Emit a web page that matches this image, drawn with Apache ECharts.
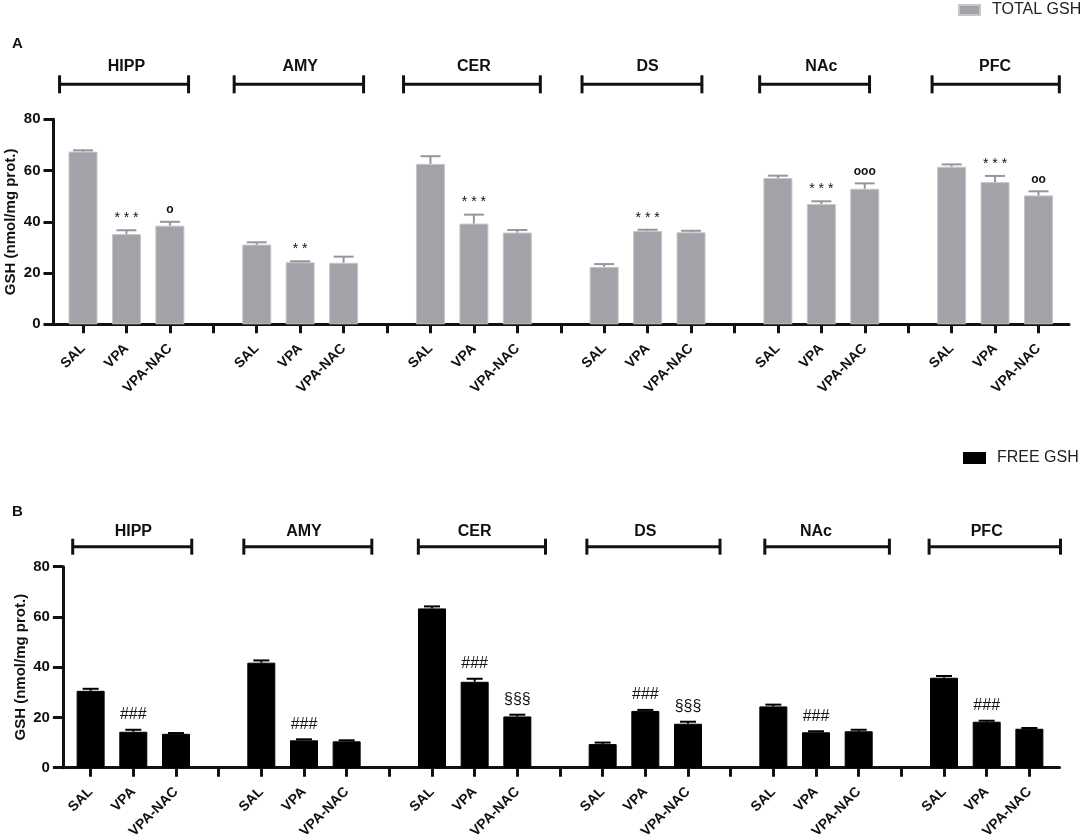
<!DOCTYPE html>
<html>
<head>
<meta charset="utf-8">
<script src="https://cdn.jsdelivr.net/npm/echarts@6/dist/echarts.min.js"></script>
<style>
html, body { margin: 0; padding: 0; background: #fff; }
#main { width: 1084px; height: 840px; }
</style>
</head>
<body>
<div id="main"></div>
<script>
// brain regions and treatment groups
var regions = ['HIPP', 'AMY', 'CER', 'DS', 'NAc', 'PFC'];
var groups = ['SAL', 'VPA', 'VPA-NAC'];
var yTicks = [0, 20, 40, 60, 80];

// panel A - total GSH (mean, sem), 3 values per region
var totalMean = [67.4, 35.2, 38.5, 31.1, 24.2, 24.0, 62.6, 39.3, 35.8, 22.4, 36.4, 35.9, 57.1, 46.9, 52.9, 61.5, 55.5, 50.3];
var totalSem = [0.5, 1.5, 1.5, 0.9, 0.4, 2.4, 3.0, 3.5, 1.0, 1.1, 0.5, 0.6, 0.9, 1.1, 2.1, 0.9, 2.4, 1.6];
var totalMarks = ['', '* * *', 'o', '', '* *', '', '', '* * *', '', '', '* * *', '', '', '* * *', 'ooo', '', '* * *', 'oo'];

// panel B - free GSH
var freeMean = [30.6, 14.3, 13.5, 41.8, 10.9, 10.5, 63.4, 34.2, 20.4, 9.4, 22.6, 17.5, 24.4, 14.1, 14.5, 35.8, 18.3, 15.5];
var freeSem = [0.8, 0.8, 0.3, 0.9, 0.4, 0.4, 0.8, 1.2, 0.7, 0.6, 0.4, 0.8, 0.7, 0.4, 0.6, 0.7, 0.4, 0.3];
var freeMarks = ['', '###', '', '', '###', '', '', '###', '§§§', '', '###', '§§§', '', '###', '', '', '###', ''];

// how far each region bracket sticks out past its outer bars (in bar slots)
var bracketPadA = [[0.54, 0.43], [0.52, 0.46], [0.62, 0.53], [0.51, 0.25], [0.42, 0.11], [0.45, 0.48]];
var bracketPadB = [[0.42, 0.37], [0.41, 0.59], [0.32, 0.66], [0.37, 0.75], [0.2, 0.72], [0.35, 0.73]];

var FONT = '"Liberation Sans", Arial, sans-serif';

// category slots: 3 bars per region, one empty slot between regions
var cats = [];
var slot = [];
regions.forEach(function (r, i) {
    groups.forEach(function (g) {
        slot.push(cats.length);
        cats.push(g);
    });
    if (i < regions.length - 1) cats.push('');
});

function barData(mean) {
    var d = cats.map(function () { return '-'; });
    mean.forEach(function (v, k) { d[slot[k]] = v; });
    return d;
}

function errData(mean, sem) {
    return mean.map(function (v, k) { return [slot[k], v, sem[k]]; });
}

function errRender(color, capW, marks, markGap) {
    return function (params, api) {
        var x = api.value(0), v = api.value(1), e = api.value(2);
        var p0 = api.coord([x, v]);
        var p1 = api.coord([x, v + e]);
        var mark = marks[params.dataIndex];
        var kids = [
            { type: 'line', shape: { x1: p0[0], y1: p0[1], x2: p1[0], y2: p1[1] }, style: { stroke: color, lineWidth: 2 } },
            { type: 'line', shape: { x1: p1[0] - capW / 2, y1: p1[1], x2: p1[0] + capW / 2, y2: p1[1] }, style: { stroke: color, lineWidth: 2 } }
        ];
        if (mark) {
            var f = mark.indexOf('o') >= 0 ? 'bold 12px ' + FONT : (mark.indexOf('*') >= 0 ? '14px ' + FONT : '16px ' + FONT);
            kids.push({ type: 'text', x: p1[0], y: p1[1] - markGap,
                style: { text: mark, font: f, fill: '#111', align: 'center', verticalAlign: 'middle' } });
        }
        return { type: 'group', children: kids };
    };
}

function bracketRender(pads, rise, capH, labelRise) {
    return function (params, api) {
        var i = params.dataIndex;
        var band = api.size([1, 0])[0];
        var a = api.coord([slot[i * 3], 80]);
        var b = api.coord([slot[i * 3 + 2], 80]);
        var x1 = a[0] - band * pads[i][0], x2 = b[0] + band * pads[i][1];
        var y = a[1] - rise;
        var st = { stroke: '#111', lineWidth: 3 };
        return { type: 'group', children: [
            { type: 'line', shape: { x1: x1, y1: y, x2: x2, y2: y }, style: st },
            { type: 'line', shape: { x1: x1, y1: y - capH / 2, x2: x1, y2: y + capH / 2 }, style: st },
            { type: 'line', shape: { x1: x2, y1: y - capH / 2, x2: x2, y2: y + capH / 2 }, style: st },
            { type: 'text', x: (a[0] + b[0]) / 2, y: y - labelRise,
              style: { text: regions[i], font: 'bold 16px ' + FONT, fill: '#111', align: 'center', verticalAlign: 'middle' } }
        ] };
    };
}

var axisLineStyle = { color: '#111', width: 3 };

function frameAxes(gi) {
    return {
        x: { type: 'value', gridIndex: gi, min: 0, max: 1, axisLine: { show: true, lineStyle: axisLineStyle },
             axisTick: { show: false }, axisLabel: { show: false }, splitLine: { show: false } },
        y: { type: 'value', gridIndex: gi, min: yTicks[0], max: yTicks[yTicks.length - 1], interval: 20,
             name: 'GSH (nmol/mg prot.)', nameLocation: 'middle', nameGap: 35, nameMoveOverlap: false,
             nameTextStyle: { fontFamily: FONT, fontWeight: 'bold', fontSize: 15, color: '#111' },
             axisLine: { show: true, lineStyle: axisLineStyle },
             axisTick: { show: true, inside: false, length: 10, lineStyle: { width: 3, color: '#111' } },
             axisLabel: { fontFamily: FONT, fontWeight: 'bold', fontSize: 15, color: '#111', margin: 13 },
             splitLine: { show: false } }
    };
}

function barAxes(gi) {
    return {
        x: { type: 'category', gridIndex: gi, data: cats,
             axisLine: { show: false },
             axisTick: { show: true, alignWithLabel: true, interval: 0, length: 9, lineStyle: { width: 3, color: '#111' } },
             axisLabel: { interval: 0, rotate: 45, margin: 22, fontFamily: FONT, fontWeight: 'bold', fontSize: 14, color: '#111' } },
        y: { type: 'value', gridIndex: gi, min: 0, max: 80, show: false }
    };
}

function makeGrid(left, top, width, height) {
    return { left: left, top: top, width: width, height: height, containLabel: false, outerBoundsMode: 'none' };
}

var fA = frameAxes(0), bA = barAxes(1), fB = frameAxes(2), bB = barAxes(3);

var option = {
    animation: false,
    title: [
        { text: 'A', left: 7, top: 31, textStyle: { fontFamily: FONT, fontWeight: 'bold', fontSize: 15, color: '#111' } },
        { text: 'B', left: 7, top: 499, textStyle: { fontFamily: FONT, fontWeight: 'bold', fontSize: 15, color: '#111' } }
    ],
    legend: [
        { data: ['TOTAL GSH'], left: 953, top: -3, itemWidth: 21, itemHeight: 10, icon: 'rect',
          textStyle: { fontFamily: FONT, fontSize: 16, color: '#222', padding: [0, 0, 0, 7] } },
        { data: ['FREE GSH'], left: 958, top: 445, itemWidth: 21, itemHeight: 10, icon: 'rect',
          textStyle: { fontFamily: FONT, fontSize: 16, color: '#222', padding: [0, 0, 0, 7] } }
    ],
    grid: [
        makeGrid(53.5, 119.3, 1015.5, 205),
        makeGrid(61.3, 119.3, 998.9, 205),
        makeGrid(62.9, 566.7, 996.6, 201),
        makeGrid(69.3, 566.7, 981.4, 201)
    ],
    xAxis: [fA.x, bA.x, fB.x, bB.x],
    yAxis: [fA.y, bA.y, fB.y, bB.y],
    series: [
        { name: 'TOTAL GSH', type: 'bar', xAxisIndex: 1, yAxisIndex: 1, barWidth: 29, data: barData(totalMean),
          itemStyle: { color: '#a3a2a8', borderColor: '#c6c6ca', borderWidth: 1 } },
        { type: 'custom', xAxisIndex: 1, yAxisIndex: 1, data: errData(totalMean, totalSem),
          renderItem: errRender('#96959b', 20, totalMarks, 12), z: 3 },
        { type: 'custom', xAxisIndex: 1, yAxisIndex: 1, data: regions.map(function (r, i) { return [slot[i * 3], 80]; }),
          renderItem: bracketRender(bracketPadA, 35, 18, 18) },
        { name: 'FREE GSH', type: 'bar', xAxisIndex: 3, yAxisIndex: 3, barWidth: 28, data: barData(freeMean),
          itemStyle: { color: '#000', borderColor: '#000', borderWidth: 1 } },
        { type: 'custom', xAxisIndex: 3, yAxisIndex: 3, data: errData(freeMean, freeSem),
          renderItem: errRender('#000', 16, freeMarks, 15), z: 3 },
        { type: 'custom', xAxisIndex: 3, yAxisIndex: 3, data: regions.map(function (r, i) { return [slot[i * 3], 80]; }),
          renderItem: bracketRender(bracketPadB, 20, 16, 15) }
    ]
};

var myChart = echarts.init(document.getElementById('main'));
myChart.setOption(option);
</script>
</body>
</html>
